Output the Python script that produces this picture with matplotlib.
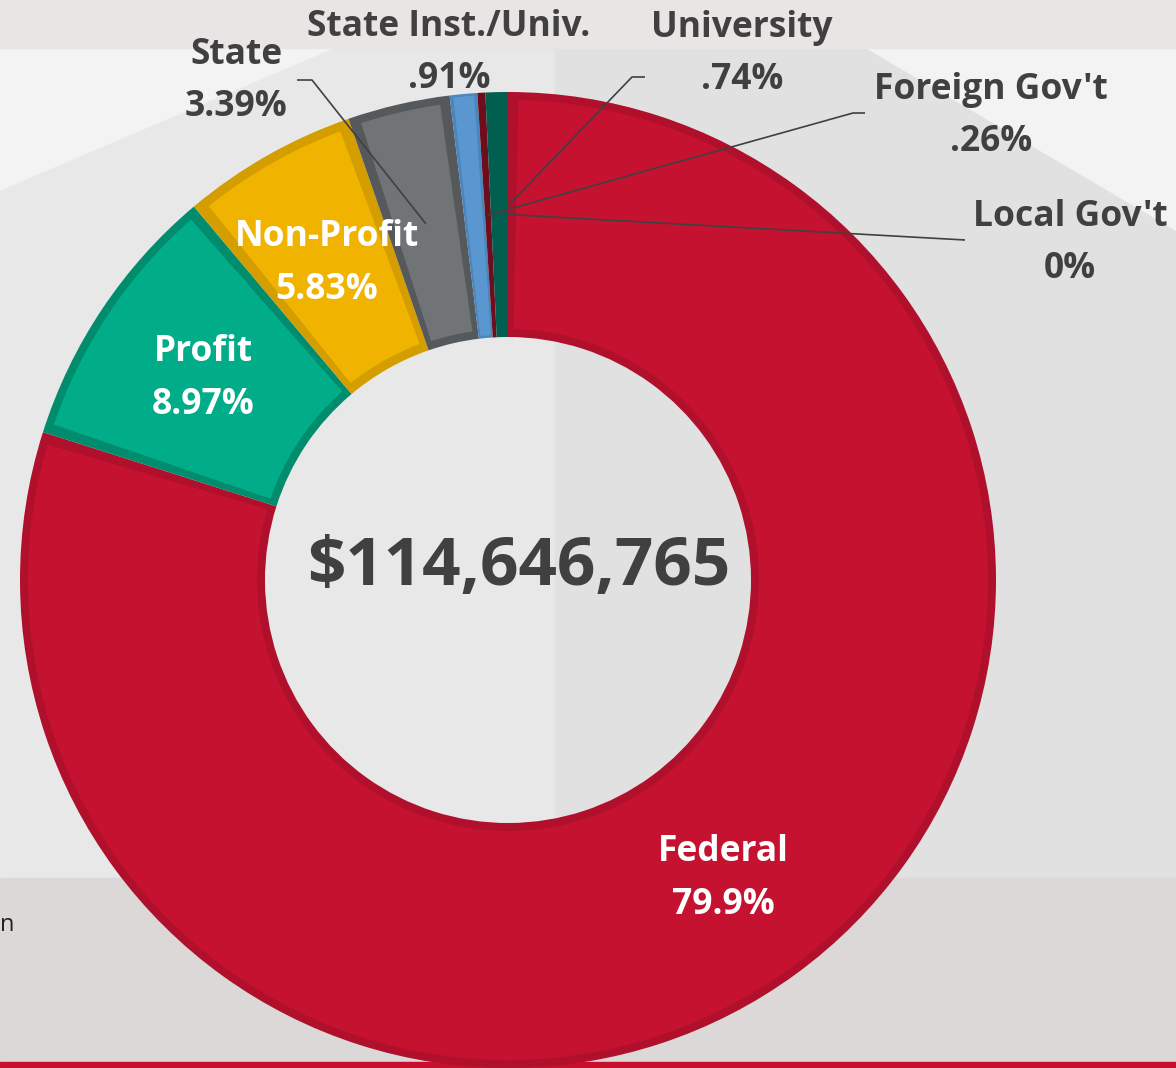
import matplotlib
matplotlib.use("Agg")
import matplotlib.pyplot as plt
from matplotlib.patches import Rectangle, Polygon, Wedge
import numpy as np

# ---------------- data ----------------
categories = ["Federal", "Profit", "Non-Profit", "State", "State Inst./Univ.",
              "Foreign Gov't", "University", "Local Gov't"]
shares = [79.9, 8.97, 5.83, 3.39, 0.91, 0.26, 0.74, 0.0]
share_labels = ["79.9%", "8.97%", "5.83%", "3.39%", ".91%", ".26%", ".74%", "0%"]
total_label = "$114,646,765"

# ---------------- style ----------------
face = ["#c41230", "#00ad88", "#f0b400", "#707477", "#5a97d0", "#6e0d1c", "#005f4f", "#c41230"]
edge = ["#b0102b", "#008c6d", "#d49d00", "#55595c", "#4a85bd", "#6e0d1c", "#005f4f", "#c41230"]
border_px = [8, 8, 9, 8, 2.5, 0, 0, 0]
DARK = "#404040"
FONT = "Open Sans"

W, H = 1176, 1068
fig = plt.figure(figsize=(W / 100, H / 100), dpi=100)
ax = fig.add_axes([0, 0, 1, 1])


def Y(y):
    return H - y


# ---------------- background ----------------
ax.add_patch(Rectangle((0, 0), W, H, color="#e4e4e4", zorder=0))
ax.add_patch(Rectangle((0, Y(878)), 555, 830, color="#e8e8e8", zorder=0.1))
ax.add_patch(Rectangle((555, Y(878)), W - 555, 830, color="#e1e1e1", zorder=0.1))
ax.add_patch(Polygon([(0, Y(48)), (333, Y(48)), (0, Y(190))], closed=True,
                     color="#f3f3f3", zorder=0.2))
ax.add_patch(Polygon([(867, Y(48)), (W, Y(48)), (W, Y(230))], closed=True,
                     color="#f3f3f3", zorder=0.2))
ax.add_patch(Rectangle((0, Y(48)), W, 48, color="#e8e5e4", zorder=0.3))
ax.add_patch(Rectangle((0, Y(1062)), W, 1062 - 878, color="#dcd8d7", zorder=0.3))
ax.add_patch(Rectangle((0, 0), W, H - 1062, color="#c8102e", zorder=0.4))
ax.text(0, Y(925), "n", fontsize=17, color="#222222", family=FONT,
        ha="left", va="center", zorder=0.5)

# ---------------- donut ----------------
cx, cy = 508, Y(580)
R, RW = 488, 245
r_mid = R - RW / 2
wedges, _ = ax.pie(shares, radius=R, center=(cx, cy), startangle=90,
                   counterclock=False, colors=edge,
                   wedgeprops=dict(width=RW, linewidth=0))
for w, fc, b in zip(wedges, face, border_px):
    w.set_zorder(2)
    if b > 0 and (w.theta2 - w.theta1) > 0:
        d = np.degrees(b / r_mid)
        inner = Wedge(w.center, w.r - b, w.theta1 + d, w.theta2 - d,
                      width=w.width - 2 * b, facecolor=fc, linewidth=0, zorder=2.5)
        ax.add_patch(inner)
    else:
        w.set_facecolor(fc)

# anchors at mid-ring, mid-angle of each slice
cum = np.cumsum([0] + shares[:-1])
mid_pct = cum + np.array(shares) / 2
ang = np.deg2rad(mid_pct / 100 * 360)
ax_x = cx + r_mid * np.sin(ang)
ax_y = cy + r_mid * np.cos(ang)

# leader lines (label elbow points -> slice anchor)
leaders = {
    3: [(297, 80), (312, 80)],
    6: [(645, 77), (632, 77)],
    5: [(865, 113), (853, 113)],
    7: [(965, 240)],
}
for i, pts in leaders.items():
    xs = [p[0] for p in pts] + [ax_x[i]]
    ys = [Y(p[1]) for p in pts] + [ax_y[i]]
    ax.plot(xs, ys, color=DARK, lw=1.2, zorder=5, solid_capstyle="butt")

# ---------------- labels ----------------
FS = 25.5
outside = {3: (236, 55), 4: (449, 27), 6: (742, 28), 5: (991, 90), 7: (1070, 217)}
for i, (x, y) in outside.items():
    ax.text(x, Y(y), categories[i], fontsize=FS, fontweight="bold", color=DARK,
            family=FONT, ha="center", va="center", zorder=6)
    ax.text(x, Y(y + 52), share_labels[i], fontsize=FS, fontweight="bold", color=DARK,
            family=FONT, ha="center", va="center", zorder=6)

inside = {2: (327, 237), 1: (203, 352), 0: (723, 852)}
for i, (x, y) in inside.items():
    ax.text(x, Y(y), categories[i], fontsize=FS, fontweight="bold", color="white",
            family=FONT, ha="center", va="center", zorder=6)
    ax.text(x, Y(y + 53), share_labels[i], fontsize=FS, fontweight="bold", color="white",
            family=FONT, ha="center", va="center", zorder=6)

ax.text(519, Y(568), total_label, fontsize=48.5, fontweight="bold", color=DARK,
        family=FONT, ha="center", va="center", zorder=6)

ax.set_xlim(0, W)
ax.set_ylim(0, H)
ax.set_aspect("equal")
ax.axis("off")
fig.savefig("out.png", dpi=100)
